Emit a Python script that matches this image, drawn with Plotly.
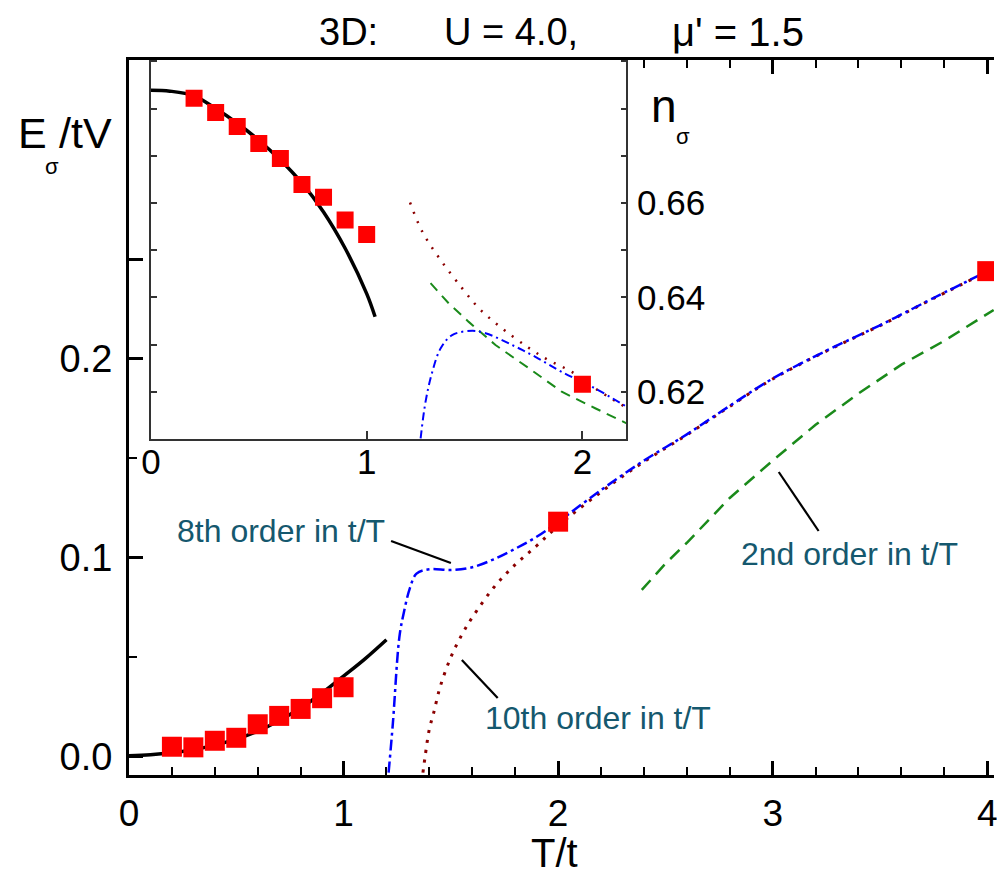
import plotly.graph_objects as go

# ---------------- data ----------------
# main panel: E_sigma / tV vs T/t
qmc_T = [0.2, 0.3, 0.4, 0.5, 0.6, 0.7, 0.8, 0.9, 1.0, 2.0, 4.0]
qmc_E = [0.0050, 0.0047, 0.0080, 0.0095, 0.0163, 0.0205, 0.0240, 0.0294, 0.0349, 0.1181, 0.2440]

low_T = [0.0, 0.1, 0.2, 0.3, 0.4, 0.5, 0.6, 0.7, 0.8, 0.9, 1.0, 1.1, 1.2]
low_E = [0.0005, 0.0010, 0.0020, 0.0035, 0.0058, 0.0088, 0.0128, 0.0182, 0.0245, 0.0320, 0.0405, 0.0492, 0.0588]

o8_T = [1.21, 1.23, 1.26, 1.28, 1.31, 1.34, 1.40, 1.50, 1.60, 1.70, 1.80, 1.90, 2.00,
        2.20, 2.40, 2.60, 2.80, 3.00, 3.25, 3.50, 3.75, 4.03]
o8_E = [-0.008, 0.017, 0.060, 0.072, 0.085, 0.092, 0.0942, 0.0938, 0.0952, 0.0992, 0.1045,
        0.1105, 0.1180, 0.1340, 0.1488, 0.1620, 0.1763, 0.1900, 0.2040, 0.2168, 0.2305, 0.2455]

o10_T = [1.37, 1.38, 1.40, 1.42, 1.45, 1.50, 1.55, 1.60, 1.70, 1.80, 1.90, 2.00,
         2.20, 2.40, 2.60, 2.80, 3.00, 3.25, 3.50, 3.75, 4.03]
o10_E = [-0.008, 0.000, 0.014, 0.022, 0.035, 0.050, 0.061, 0.070, 0.0850, 0.0965, 0.1060,
         0.1160, 0.1330, 0.1482, 0.1617, 0.1760, 0.1898, 0.2038, 0.2166, 0.2303, 0.2453]

o2_T = [2.39, 2.50, 2.60, 2.80, 3.00, 3.20, 3.40, 3.60, 3.80, 4.03]
o2_E = [0.0838, 0.0970, 0.1075, 0.1300, 0.1488, 0.1668, 0.1825, 0.1970, 0.2090, 0.2245]

# inset: n_sigma vs T/t
in_qmc_T = [0.2, 0.3, 0.4, 0.5, 0.6, 0.7, 0.8, 0.9, 1.0, 2.0]
in_qmc_n = [0.6822, 0.6792, 0.6762, 0.6726, 0.6694, 0.6639, 0.6612, 0.6564, 0.6533, 0.6216]

in_low_T = [0.0, 0.088, 0.2, 0.3, 0.4, 0.5, 0.6, 0.7, 0.8, 0.9, 1.0, 1.039]
in_low_n = [0.6839, 0.6837, 0.6827, 0.6800, 0.6769, 0.6733, 0.6691, 0.6642, 0.6581, 0.6504, 0.6408, 0.6359]

in_o8_T = [1.25, 1.273, 1.304, 1.343, 1.396, 1.489, 1.551, 1.674, 1.782, 1.904, 2.059, 2.205]
in_o8_n = [0.6101, 0.6179, 0.6242, 0.6292, 0.6320, 0.6329, 0.6324, 0.6299, 0.6274, 0.6242, 0.6207, 0.6168]

in_o10_T = [1.201, 1.258, 1.343, 1.443, 1.520, 1.612, 1.751, 1.843, 1.951, 2.059, 2.197]
in_o10_n = [0.6601, 0.6539, 0.6479, 0.6419, 0.6377, 0.6340, 0.6293, 0.6267, 0.6242, 0.6207, 0.6168]

in_o2_T = [1.296, 1.381, 1.473, 1.597, 1.751, 1.904, 2.059, 2.205]
in_o2_n = [0.6430, 0.6387, 0.6348, 0.6299, 0.6250, 0.6200, 0.6165, 0.6133]

main_xticks = [0, 1, 2, 3, 4]
main_yticks = [0.0, 0.1, 0.2, 0.25]
main_yticktext = ["0.0", "0.1", "0.2", ""]
main_yminor = [0.05, 0.15]
inset_xticks = [0, 1, 2]
inset_yticks = [0.62, 0.64, 0.66]
inset_yticktext = ["0.62", "0.64", "0.66"]

# ---------------- layout geometry ----------------
W, H = 997, 885
L, R, TOP, BOT = 129, 997, 60, 775


def px(x):
    return (x - L) / (R - L)


def py(y):
    return (BOT - y) / (BOT - TOP)


FONT = "Liberation Sans, Arial, sans-serif"
TEAL = "#15586e"
BLUE = "#0000ff"
DRED = "#8b0000"
GREEN = "#1a8a1a"

DASHDOT = "11px,4px,3px,4px"
DOT = "3px,7px"
DASH = "13px,8px"

fig = go.Figure()

# main panel traces
fig.add_trace(go.Scatter(x=o2_T, y=o2_E, mode="lines",
                         line=dict(color=GREEN, width=2.5, dash=DASH)))
fig.add_trace(go.Scatter(x=o10_T, y=o10_E, mode="lines",
                         line=dict(color=DRED, width=3, dash=DOT, shape="spline")))
fig.add_trace(go.Scatter(x=o8_T, y=o8_E, mode="lines",
                         line=dict(color=BLUE, width=2.5, dash=DASHDOT, shape="spline")))
fig.add_trace(go.Scatter(x=low_T, y=low_E, mode="lines",
                         line=dict(color="black", width=3.5, shape="spline")))
fig.add_trace(go.Scatter(x=qmc_T, y=qmc_E, mode="markers",
                         marker=dict(symbol="square", size=20, color="#ff0000",
                                     line=dict(width=0))))

# inset traces
fig.add_trace(go.Scatter(x=in_o2_T, y=in_o2_n, mode="lines", xaxis="x2", yaxis="y2",
                         line=dict(color=GREEN, width=2, dash="10px,7px")))
fig.add_trace(go.Scatter(x=in_o10_T, y=in_o10_n, mode="lines", xaxis="x2", yaxis="y2",
                         line=dict(color=DRED, width=2.5, dash="2px,8px", shape="spline")))
fig.add_trace(go.Scatter(x=in_o8_T, y=in_o8_n, mode="lines", xaxis="x2", yaxis="y2",
                         line=dict(color=BLUE, width=2, dash="8px,4px,2px,4px", shape="spline")))
fig.add_trace(go.Scatter(x=in_low_T, y=in_low_n, mode="lines", xaxis="x2", yaxis="y2",
                         line=dict(color="black", width=3.5, shape="spline")))
fig.add_trace(go.Scatter(x=in_qmc_T, y=in_qmc_n, mode="markers", xaxis="x2", yaxis="y2",
                         marker=dict(symbol="square", size=17, color="#ff0000",
                                     line=dict(width=0))))

shapes = []
# annotation pointer lines
for (x0, y0, x1, y1) in [(392, 541, 452, 563), (463, 660, 499, 698), (781, 472, 821, 531)]:
    shapes.append(dict(type="line", xref="paper", yref="paper",
                       x0=px(x0), y0=py(y0), x1=px(x1), y1=py(y1),
                       line=dict(color="black", width=2.2)))


def ann(text, x, y, size, color="black", xanchor="left"):
    return dict(text=text, x=px(x), y=py(y), xref="paper", yref="paper", showarrow=False,
                xanchor=xanchor, yanchor="middle",
                font=dict(size=size, color=color, family=FONT))


annotations = [
    # title pieces
    ann("3D:", 318, 32, 38),
    ann("U = 4.0,", 443, 32, 38),
    ann("\u03bc' = 1.5", 672, 32, 40),
    # curve labels
    ann("8th order in t/T", 175, 531, 32, TEAL),
    ann("10th order in t/T", 484, 718, 32, TEAL),
    ann("2nd order in t/T", 741, 554, 32, TEAL),
    # y-axis label E_sigma / tV
    ann("E", 16, 133, 43),
    ann("\u03c3", 43, 166, 22),
    ann("/tV", 57, 133, 43),
    # inset label n_sigma
    ann("n", 651, 106, 46),
    ann("\u03c3", 676, 136, 22),
    # x-axis title
    ann("T/t", 556, 853, 40, xanchor="center"),
]

inset_x0, inset_x1 = px(151), px(628)
inset_y0 = py(439)

fig.update_layout(
    width=W, height=H,
    margin=dict(l=L, r=W - R, t=TOP, b=H - BOT),
    paper_bgcolor="white", plot_bgcolor="white",
    showlegend=False,
    font=dict(family=FONT, color="black"),
    shapes=shapes,
    annotations=annotations,
    xaxis=dict(domain=[0, 1], range=[0, (R - L) / 215.3], tickvals=main_xticks,
               ticks="inside", ticklen=14, tickwidth=2.5, tickcolor="black",
               minor=dict(dtick=0.2, tick0=0, ticks="inside", ticklen=8, tickwidth=2,
                          tickcolor="black"),
               showline=True, linewidth=3, linecolor="black", mirror="ticks",
               showgrid=False, zeroline=False, ticklabeloverflow="allow",
               tickfont=dict(size=37, family=FONT), ticklabelstandoff=4),
    yaxis=dict(domain=[0, 1], range=[-0.0092, 0.3501], tickvals=main_yticks,
               ticktext=main_yticktext,
               ticks="inside", ticklen=14, tickwidth=2.5, tickcolor="black",
               minor=dict(tickvals=main_yminor, ticks="inside", ticklen=8, tickwidth=2,
                          tickcolor="black"),
               showline=True, linewidth=3, linecolor="black", mirror=False,
               showgrid=False, zeroline=False,
               tickfont=dict(size=38, family=FONT), ticklabelstandoff=6),
    xaxis2=dict(domain=[inset_x0, inset_x1], anchor="y2", range=[0, (628 - 151) / 216.5],
                tickvals=inset_xticks, ticks="inside", ticklen=8, tickwidth=1.5,
                tickcolor="#333333", showline=True, linewidth=1.5, linecolor="#333333",
                mirror=False, showgrid=False, zeroline=False,
                tickfont=dict(size=35, family=FONT), ticklabelstandoff=-9),
    yaxis2=dict(domain=[inset_y0, 1], anchor="x2", side="right",
                range=[0.60998, 0.6903], tickvals=inset_yticks, ticktext=inset_yticktext,
                ticks="inside", ticklen=6, tickwidth=1.5, tickcolor="#333333",
                minor=dict(dtick=0.01, tick0=0.6, ticks="inside", ticklen=6, tickwidth=1.5,
                           tickcolor="#333333"),
                showline=True, linewidth=1.5, linecolor="#333333", mirror="ticks",
                showgrid=False, zeroline=False,
                tickfont=dict(size=35, family=FONT), ticklabelstandoff=2),
)

fig.write_html("out.html", config={"displayModeBar": False},
               post_script="document.body.style.margin='0px';"
                           "document.body.style.overflow='hidden';")
